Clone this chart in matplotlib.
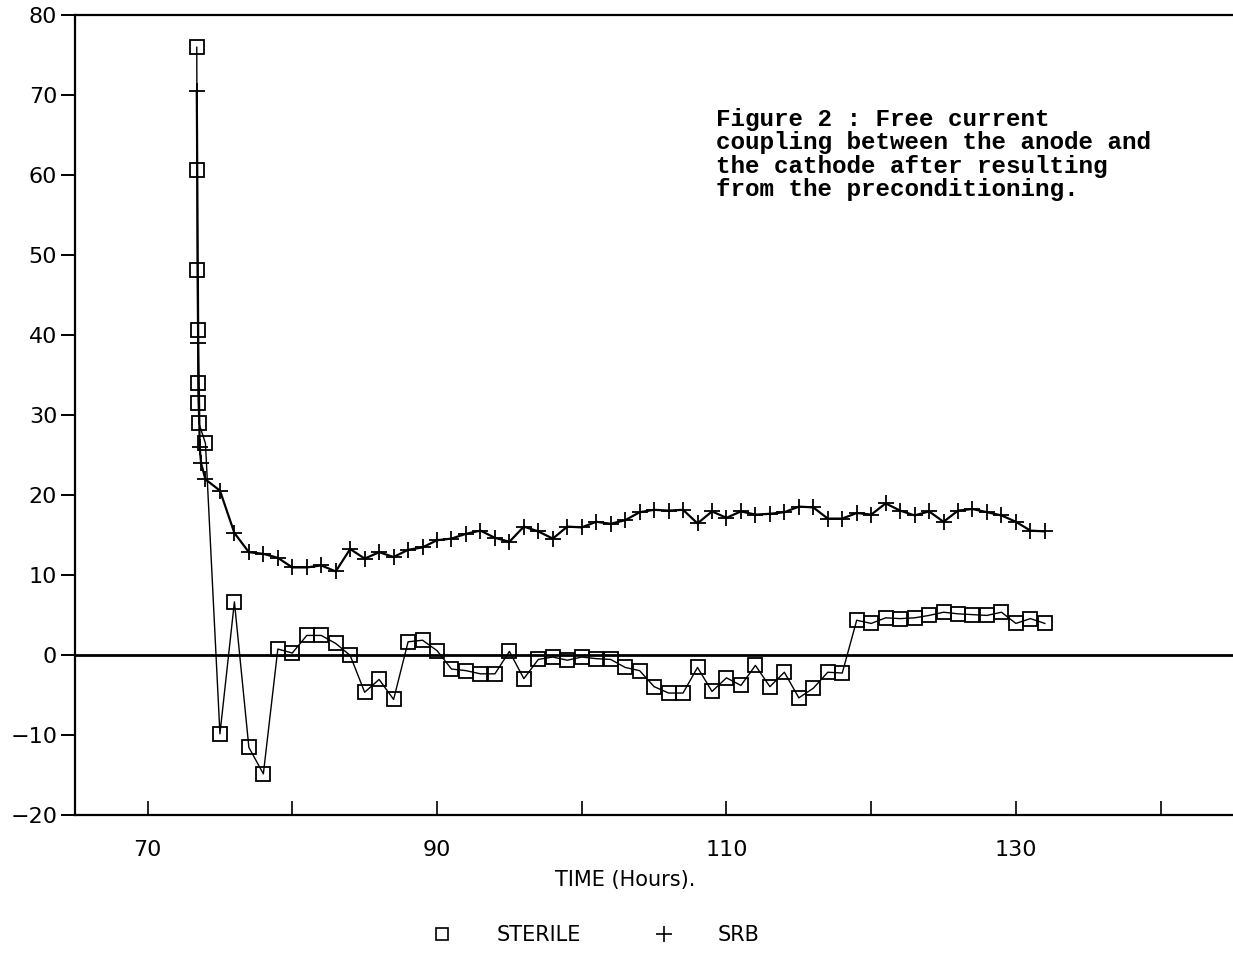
import matplotlib
matplotlib.use('Agg')
import matplotlib.pyplot as plt
from matplotlib.lines import Line2D

# Sterile cell (squares): the first points are a quick burst of readings
sterile_hours = [73.4, 73.42, 73.44, 73.46, 73.48, 73.5, 73.55, 74,
                 75, 76, 77, 78, 79, 80, 81, 82, 83, 84, 85, 86, 87, 88, 89,
                 90, 91, 92, 93, 94, 95, 96, 97, 98, 99, 100, 101, 102, 103,
                 104, 105, 106, 107, 108, 109, 110, 111, 112, 113, 114, 115,
                 116, 117, 118, 119, 120, 121, 122, 123, 124, 125, 126, 127,
                 128, 129, 130, 131, 132]
sterile_current = [76.0, 60.7, 48.2, 40.7, 34.0, 31.5, 29.0, 26.5,
                   -9.8, 6.7, -11.5, -14.8, 0.8, 0.3, 2.5, 2.5, 1.5, 0.0,
                   -4.6, -3.0, -5.5, 1.7, 1.9, 0.6, -1.7, -1.9, -2.3, -2.3,
                   0.5, -2.9, -0.5, -0.2, -0.6, -0.2, -0.4, -0.5, -1.5, -1.9,
                   -3.9, -4.7, -4.7, -1.5, -4.5, -2.8, -3.75, -1.25, -3.9,
                   -2.1, -5.3, -4.1, -2.1, -2.2, 4.4, 4.0, 4.7, 4.6, 4.7,
                   5.0, 5.4, 5.2, 5.1, 5.0, 5.4, 4.0, 4.6, 4.0]

# SRB cell (plus signs)
srb_hours = [73.4, 73.5, 73.6, 73.7,
             74, 75, 76, 77, 78, 79, 80, 81, 82, 83, 84, 85, 86, 87, 88, 89,
             90, 91, 92, 93, 94, 95, 96, 97, 98, 99, 100, 101, 102, 103, 104,
             105, 106, 107, 108, 109, 110, 111, 112, 113, 114, 115, 116, 117,
             118, 119, 120, 121, 122, 123, 124, 125, 126, 127, 128, 129, 130,
             131, 132]
srb_current = [70.5, 39.0, 26.0, 24.0,
               22.0, 20.6, 15.3, 12.9, 12.7, 12.2, 11.0, 11.0, 11.25, 10.5,
               13.3, 12.1, 12.9, 12.3, 13.2, 13.5, 14.4, 14.6, 15.2, 15.6,
               14.7, 14.2, 16.1, 15.5, 14.6, 16.1, 16.0, 16.7, 16.45, 16.9,
               17.9, 18.2, 18.1, 18.2, 16.5, 18.0, 17.2, 18.0, 17.6, 17.7,
               17.9, 18.6, 18.5, 17.1, 17.1, 17.8, 17.6, 19.0, 18.1, 17.5,
               18.0, 16.7, 18.1, 18.3, 17.9, 17.5, 16.7, 15.6, 15.5]

x_ticks = [70, 80, 90, 100, 110, 120, 130, 140]
x_labels = ['70', '', '90', '', '110', '', '130', '']
y_ticks = list(range(-20, 81, 10))

note = ("Figure 2 : Free current\n"
        "coupling between the anode and\n"
        "the cathode after resulting\n"
        "from the preconditioning.")

fig = plt.figure(figsize=(12.33, 9.56), dpi=100)
ax = fig.add_axes([0.061, 0.147, 0.939, 0.837])

ax.plot(sterile_hours, sterile_current, color='black', lw=1.0,
        marker='s', ms=10, mfc='none', mec='black', mew=1.3)
ax.plot(srb_hours, srb_current, color='black', lw=1.6,
        marker='+', ms=12, mew=1.3)
ax.axhline(0, color='black', lw=2.0)

ax.set_xlim(65, 145)
ax.set_ylim(-20, 80)
ax.set_xticks(x_ticks)
ax.set_xticklabels(x_labels)
ax.set_yticks(y_ticks)

ax.spines['right'].set_visible(False)
for side in ['top', 'left', 'bottom']:
    ax.spines[side].set_linewidth(1.6)
ax.tick_params(axis='x', direction='in', length=10, width=1.2, pad=18,
               labelsize=16)
ax.tick_params(axis='y', direction='out', length=10, width=1.4, pad=3,
               labelsize=16)

fig.text(0.507, 0.079, 'TIME (Hours).', ha='center', va='center', fontsize=15)

handles = [Line2D([], [], ls='none', marker='s', ms=9, mfc='none', mec='black', mew=1.2),
           Line2D([], [], ls='none', marker='+', ms=11, color='black', mew=1.2)]
fig.legend(handles, ['STERILE', 'SRB'], loc='center', bbox_to_anchor=(0.479, 0.022),
           ncol=2, frameon=False, fontsize=15, handletextpad=1.6, columnspacing=3.0)

fig.text(0.581, 0.887, note, ha='left', va='top', family='Liberation Mono',
         weight='bold', fontsize=17.5, linespacing=1.02)

fig.savefig('out.png', dpi=100)
